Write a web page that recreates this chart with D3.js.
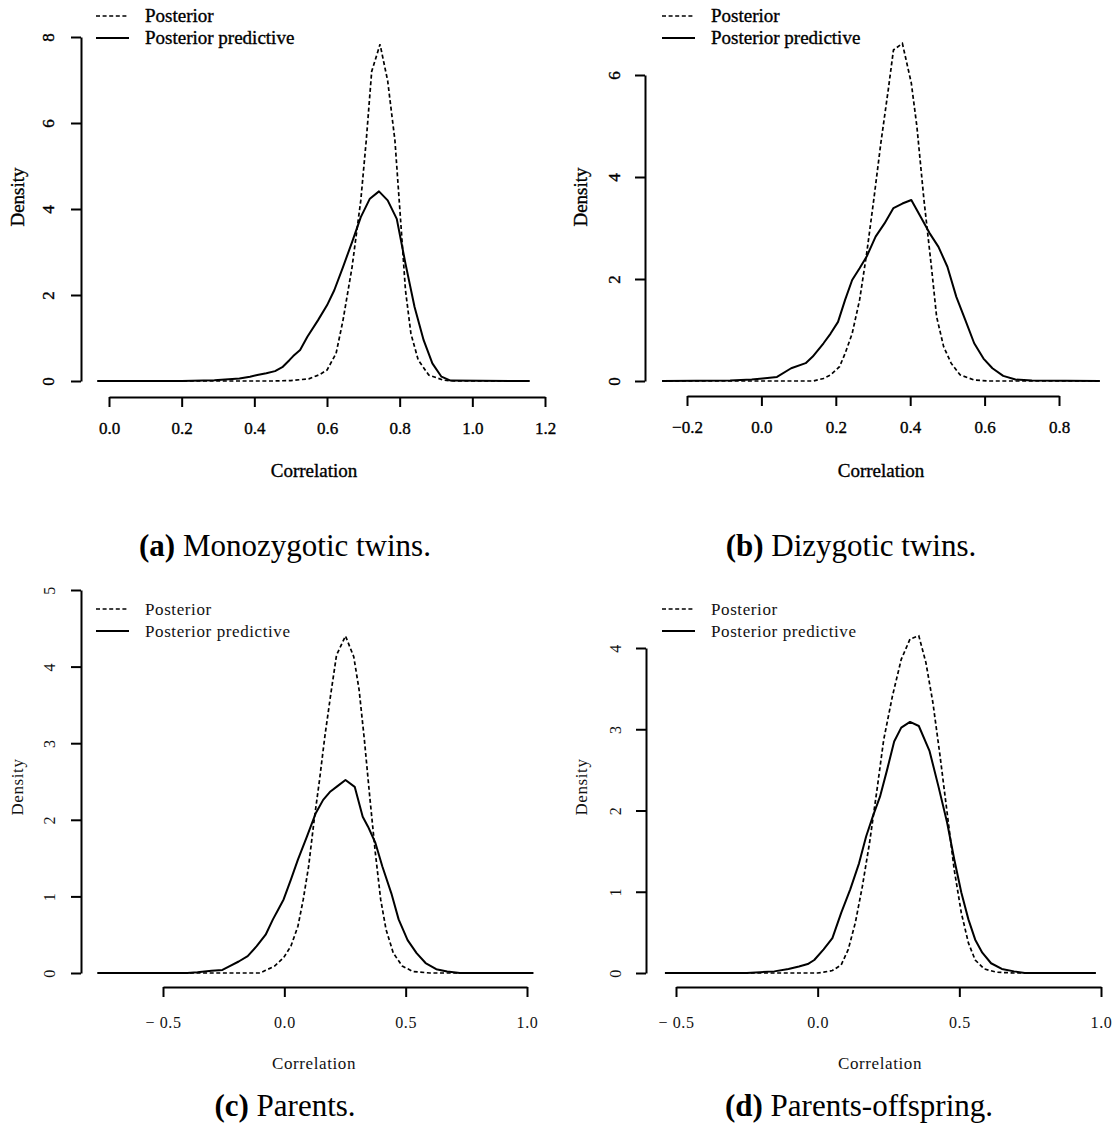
<!DOCTYPE html>
<html>
<head>
<meta charset="utf-8">
<script src="https://cdn.jsdelivr.net/npm/d3@7"></script>
<style>
	body { margin: 0; background: #fff; }
	svg { display: block; }
	text { font-family: "Liberation Serif", "Times New Roman", serif; fill: #000; }
</style>
</head>
<body>
<div id="chart"></div>
<script>
// (a) monozygotic twins
var mzPostX = [-0.032, 0.45, 0.5, 0.55, 0.58, 0.6, 0.625, 0.644, 0.669, 0.693, 0.708, 0.723, 0.746, 0.767, 0.787, 0.802, 0.816, 0.831, 0.851, 0.88, 0.92, 0.95, 1.158];
var mzPostY = [0, 0, 0.01, 0.05, 0.15, 0.255, 0.64, 1.41, 2.65, 4.2, 5.59, 7.2, 7.83, 6.98, 5.59, 3.81, 2.11, 1.1, 0.49, 0.14, 0.02, 0, 0];
var mzPredX = [-0.032, 0.2, 0.29, 0.359, 0.388, 0.408, 0.433, 0.457, 0.477, 0.497, 0.507, 0.526, 0.546, 0.575, 0.6, 0.62, 0.644, 0.669, 0.693, 0.718, 0.743, 0.767, 0.792, 0.816, 0.841, 0.866, 0.89, 0.915, 0.94, 1.158];
var mzPredY = [0, 0, 0.02, 0.06, 0.1, 0.14, 0.18, 0.23, 0.32, 0.49, 0.58, 0.72, 1.03, 1.41, 1.76, 2.11, 2.65, 3.23, 3.81, 4.24, 4.41, 4.2, 3.77, 2.73, 1.72, 0.95, 0.41, 0.1, 0.01, 0];

// (b) dizygotic twins
var dzPostX = [-0.267, 0.14, 0.167, 0.186, 0.21, 0.225, 0.244, 0.264, 0.283, 0.302, 0.321, 0.341, 0.355, 0.379, 0.403, 0.418, 0.437, 0.457, 0.471, 0.49, 0.51, 0.534, 0.572, 0.611, 0.91];
var dzPostY = [0, 0, 0.05, 0.12, 0.28, 0.54, 0.93, 1.59, 2.5, 3.55, 4.66, 5.71, 6.49, 6.62, 5.84, 4.99, 3.55, 2.24, 1.26, 0.67, 0.35, 0.12, 0.02, 0, 0];
var dzPredX = [-0.267, -0.084, -0.026, 0.003, 0.042, 0.08, 0.119, 0.138, 0.167, 0.186, 0.206, 0.225, 0.244, 0.264, 0.283, 0.307, 0.331, 0.355, 0.379, 0.403, 0.428, 0.452, 0.476, 0.5, 0.524, 0.548, 0.572, 0.597, 0.621, 0.65, 0.683, 0.727, 0.91];
var dzPredY = [0, 0.01, 0.03, 0.05, 0.08, 0.25, 0.35, 0.48, 0.74, 0.93, 1.16, 1.59, 1.98, 2.21, 2.44, 2.83, 3.09, 3.39, 3.48, 3.55, 3.22, 2.9, 2.63, 2.24, 1.65, 1.2, 0.74, 0.44, 0.25, 0.1, 0.03, 0.01, 0];

// (c) parents
var paPostX = [-0.77, -0.1, -0.077, -0.04, -0.003, 0.027, 0.056, 0.078, 0.1, 0.123, 0.145, 0.167, 0.19, 0.215, 0.252, 0.286, 0.308, 0.33, 0.352, 0.375, 0.397, 0.419, 0.449, 0.486, 0.53, 0.6, 1.026];
var paPostY = [0, 0, 0.035, 0.09, 0.2, 0.35, 0.61, 0.96, 1.39, 2.0, 2.52, 3.09, 3.61, 4.15, 4.4, 4.13, 3.7, 3.04, 2.3, 1.57, 0.96, 0.57, 0.26, 0.09, 0.02, 0, 0];
var paPredX = [-0.77, -0.4, -0.358, -0.3, -0.255, -0.225, -0.188, -0.151, -0.114, -0.077, -0.047, -0.025, -0.003, 0.027, 0.056, 0.093, 0.13, 0.16, 0.19, 0.219, 0.252, 0.29, 0.323, 0.345, 0.375, 0.404, 0.441, 0.471, 0.508, 0.545, 0.582, 0.626, 0.671, 0.723, 1.026];
var paPredY = [0, 0, 0.01, 0.03, 0.04, 0.09, 0.15, 0.22, 0.35, 0.5, 0.7, 0.83, 0.96, 1.22, 1.48, 1.78, 2.09, 2.26, 2.37, 2.44, 2.52, 2.43, 2.04, 1.91, 1.7, 1.39, 1.04, 0.7, 0.43, 0.26, 0.13, 0.05, 0.02, 0, 0];

// (d) parents-offspring
var poPostX = [-0.539, 0.0, 0.021, 0.052, 0.083, 0.108, 0.133, 0.158, 0.183, 0.208, 0.233, 0.264, 0.295, 0.326, 0.357, 0.382, 0.407, 0.432, 0.457, 0.482, 0.507, 0.532, 0.556, 0.588, 0.631, 0.693, 0.982];
var poPostY = [0, 0, 0.01, 0.03, 0.1, 0.29, 0.62, 1.07, 1.6, 2.22, 2.87, 3.41, 3.86, 4.11, 4.15, 3.82, 3.32, 2.67, 1.97, 1.27, 0.74, 0.37, 0.16, 0.05, 0.01, 0, 0];
var poPredX = [-0.539, -0.25, -0.203, -0.153, -0.103, -0.066, -0.035, -0.012, 0.021, 0.052, 0.083, 0.115, 0.146, 0.171, 0.195, 0.22, 0.245, 0.27, 0.295, 0.326, 0.357, 0.395, 0.426, 0.457, 0.482, 0.507, 0.532, 0.556, 0.581, 0.612, 0.65, 0.693, 0.731, 0.982];
var poPredY = [0, 0, 0.01, 0.02, 0.05, 0.08, 0.11, 0.16, 0.29, 0.43, 0.74, 1.03, 1.35, 1.68, 1.93, 2.17, 2.5, 2.85, 3.02, 3.09, 3.04, 2.73, 2.3, 1.85, 1.4, 0.99, 0.66, 0.41, 0.25, 0.12, 0.05, 0.02, 0, 0];

// ticks
var mzXTicks = [0, 0.2, 0.4, 0.6, 0.8, 1.0, 1.2];
var mzYTicks = [0, 2, 4, 6, 8];
var dzXTicks = [-0.2, 0, 0.2, 0.4, 0.6, 0.8];
var dzYTicks = [0, 2, 4, 6];
var paXTicks = [-0.5, 0, 0.5, 1.0];
var paYTicks = [0, 1, 2, 3, 4, 5];
var poXTicks = [-0.5, 0, 0.5, 1.0];
var poYTicks = [0, 1, 2, 3, 4];

var legendLabels = ["Posterior", "Posterior predictive"];
var xTitle = "Correlation";
var yTitle = "Density";
var captionTags = ["(a)", "(b)", "(c)", "(d)"];
var captionTexts = ["Monozygotic twins.", "Dizygotic twins.", "Parents.", "Parents-offspring."];

var svg = d3.select("#chart").append("svg")
	.attr("width", 1115)
	.attr("height", 1131);

// top row drawn darker, bottom row lighter with wider spacing (as in the source figure)
var panels = [
	{ post: [mzPostX, mzPostY], pred: [mzPredX, mzPredY], xt: mzXTicks, yt: mzYTicks,
		xr: [109, 545], yr: [381, 37], axX: 81, axY: 397, lx: 96, ly: 16, labX: 27, labY: 37,
		titleX: 24, titleYc: 197, corrX: 314, corrY: 477, capX: 285, capY: 556, heavy: true, minusSpace: false },
	{ post: [dzPostX, dzPostY], pred: [dzPredX, dzPredY], xt: dzXTicks, yt: dzYTicks,
		xr: [687, 1059], yr: [381, 75], axX: 645, axY: 396, lx: 662, ly: 16, labX: 25, labY: 37,
		titleX: 587, titleYc: 197, corrX: 881, corrY: 477, capX: 851, capY: 556, heavy: true, minusSpace: false },
	{ post: [paPostX, paPostY], pred: [paPredX, paPredY], xt: paXTicks, yt: paYTicks,
		xr: [163, 527], yr: [973, 590], axX: 81, axY: 987, lx: 96, ly: 609, labX: 26, labY: 41,
		titleX: 23, titleYc: 787, corrX: 314, corrY: 1069, capX: 285, capY: 1116, heavy: false, minusSpace: true },
	{ post: [poPostX, poPostY], pred: [poPredX, poPredY], xt: poXTicks, yt: poYTicks,
		xr: [676, 1101], yr: [973, 648], axX: 646, axY: 987, lx: 662, ly: 609, labX: 25, labY: 41,
		titleX: 587, titleYc: 787, corrX: 880, corrY: 1069, capX: 859, capY: 1116, heavy: false, minusSpace: true }
];

panels.forEach(function (p, i) {
	drawPanel(p, i);
});

function pairs (arr) {
	return arr[0].map(function (x, i) { return [x, arr[1][i]]; });
}

function fmtTick (d, minusSpace) {
	var s = d3.format(".1f")(Math.abs(d));
	if (d < 0) s = (minusSpace ? "\u2212 " : "\u2212") + s;
	return s;
}

function styleText (sel, p) {
	if (p.heavy) {
		sel.attr("stroke", "#000").attr("stroke-width", 0.35);
	} else {
		sel.attr("letter-spacing", "0.6px").style("fill", "#111");
	}
	return sel;
}

function drawPanel (p, i) {
	var g = svg.append("g");
	var first = p.xt[0], last = p.xt[p.xt.length - 1];
	var x = d3.scaleLinear().domain([first, last]).range(p.xr);
	var y = d3.scaleLinear().domain([p.yt[0], p.yt[p.yt.length - 1]]).range(p.yr);
	var tickFs = p.heavy ? 17 : 16;
	var titleFs = p.heavy ? 19 : 17;

	// curves
	var line = d3.line()
		.x(function (d) { return x(d[0]); })
		.y(function (d) { return y(d[1]); });

	g.append("path")
		.datum(pairs(p.pred))
		.attr("d", line)
		.attr("fill", "none")
		.attr("stroke", "#000")
		.attr("stroke-width", 2)
		.attr("stroke-linejoin", "round");

	g.append("path")
		.datum(pairs(p.post))
		.attr("d", line)
		.attr("fill", "none")
		.attr("stroke", "#000")
		.attr("stroke-width", 1.7)
		.attr("stroke-dasharray", "4,2.6");

	// x axis, line only between first and last tick
	var xAxis = d3.axisBottom(x)
		.tickValues(p.xt)
		.tickSize(10)
		.tickSizeOuter(0)
		.tickFormat(function (d) { return fmtTick(d, p.minusSpace); });

	var gx = g.append("g")
		.attr("transform", "translate(0," + p.axY + ")")
		.call(xAxis);
	gx.select(".domain").attr("stroke-width", 2);
	gx.selectAll(".tick line").attr("stroke-width", 2);
	var xt = gx.selectAll(".tick text")
		.attr("y", p.labY)
		.attr("dy", 0)
		.attr("font-size", tickFs)
		.style("font-family", "'Liberation Serif', serif");
	styleText(xt, p);

	// y axis with rotated labels
	var yAxis = d3.axisLeft(y)
		.tickValues(p.yt)
		.tickSize(10)
		.tickSizeOuter(0)
		.tickFormat(d3.format("d"));

	var gy = g.append("g")
		.attr("transform", "translate(" + p.axX + ",0)")
		.call(yAxis);
	gy.select(".domain").attr("stroke-width", 2);
	gy.selectAll(".tick line").attr("stroke-width", 2);
	var yt = gy.selectAll(".tick text")
		.attr("x", 0)
		.attr("dy", 0)
		.attr("text-anchor", "middle")
		.attr("transform", "translate(" + (-p.labX) + ",0) rotate(-90)")
		.attr("font-size", tickFs)
		.style("font-family", "'Liberation Serif', serif");
	styleText(yt, p);

	// axis titles
	styleText(g.append("text")
		.attr("transform", "translate(" + p.titleX + "," + p.titleYc + ") rotate(-90)")
		.attr("text-anchor", "middle")
		.attr("font-size", titleFs)
		.text(yTitle), p);

	styleText(g.append("text")
		.attr("x", p.corrX)
		.attr("y", p.corrY)
		.attr("text-anchor", "middle")
		.attr("font-size", titleFs)
		.text(xTitle), p);

	// legend
	[0, 1].forEach(function (k) {
		var ly = p.ly + k * 22;
		g.append("line")
			.attr("x1", p.lx).attr("x2", p.lx + 33)
			.attr("y1", ly).attr("y2", ly)
			.attr("stroke", "#000")
			.attr("stroke-width", k === 0 ? 1.7 : 2)
			.attr("stroke-dasharray", k === 0 ? "4,2.6" : null);
		styleText(g.append("text")
			.attr("x", p.lx + 49)
			.attr("y", ly + 6)
			.attr("font-size", titleFs)
			.text(legendLabels[k]), p);
	});

	// caption
	var cap = svg.append("text")
		.attr("x", p.capX)
		.attr("y", p.capY)
		.attr("text-anchor", "middle")
		.attr("font-size", 31);
	cap.append("tspan").attr("font-weight", "bold").text(captionTags[i]);
	cap.append("tspan").text(" " + captionTexts[i]);
}
</script>
</body>
</html>
